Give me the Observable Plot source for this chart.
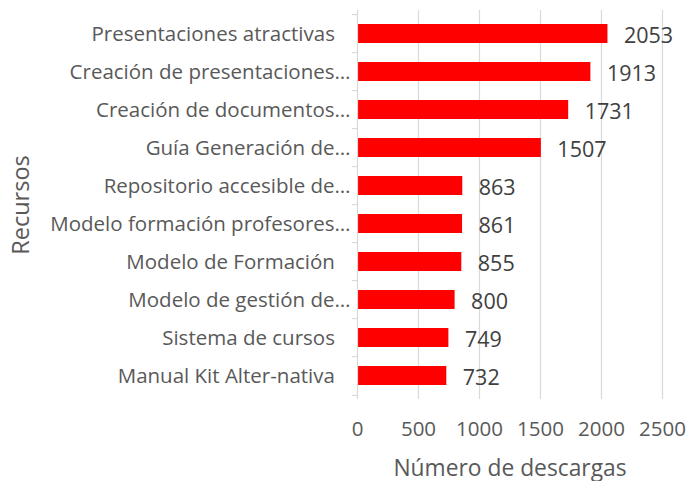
<!DOCTYPE html>
<html>
<head>
<meta charset="utf-8">
<script src="https://cdn.jsdelivr.net/npm/d3@7"></script>
<script src="https://cdn.jsdelivr.net/npm/@observablehq/plot@0.6"></script>
<style>
  html, body { margin: 0; padding: 0; background: #fff; }
  svg { display: block; }
</style>
</head>
<body>
<div id="chart"></div>
<script>
const categories = [
  "Presentaciones atractivas\u2002\u00a0",
  "Creación de presentaciones…",
  "Creación de documentos…",
  "Guía Generación de…",
  "Repositorio accesible de…",
  "Modelo formación profesores…",
  "Modelo de Formación\u2002\u00a0",
  "Modelo de gestión de…",
  "Sistema de cursos\u2002\u00a0",
  "Manual Kit Alter-nativa\u2002\u00a0"
];
const values = [2053, 1913, 1731, 1507, 863, 861, 855, 800, 749, 732];
const xTicks = [0, 500, 1000, 1500, 2000, 2500];

const data = categories.map((c, i) => ({ cat: c, value: values[i] }));

const W = 688, H = 481;
const mTop = 10, mBottom = 82, mLeft = 357, mRight = 26;
const step = (H - mTop - mBottom) / categories.length;

const chart = Plot.plot({
  width: W,
  height: H,
  marginTop: mTop,
  marginBottom: mBottom,
  marginLeft: mLeft,
  marginRight: mRight,
  style: { fontFamily: "'Open Sans', sans-serif", background: "#fff", color: "#595959" },
  x: { domain: [0, 2500], ticks: xTicks, tickFormat: d => String(d) },
  y: { domain: categories, paddingInner: 0.5, paddingOuter: 0.25 },
  marks: [
    Plot.gridX(xTicks.filter(d => d > 0), { stroke: "#d9d9d9", strokeOpacity: 1, strokeWidth: 1.2 }),
    Plot.barX(data, { x: "value", y: "cat", fill: "#ff0000" }),
    Plot.ruleX([0], { stroke: "#d9d9d9", strokeWidth: 1.2 }),
    Plot.ruleY(categories, { y: d => d, x1: -41, x2: 0, dy: -step / 2, stroke: "#d9d9d9", strokeWidth: 1.2 }),
    Plot.ruleY([categories[categories.length - 1]], { y: d => d, x1: -41, x2: 0, dy: step / 2, stroke: "#d9d9d9", strokeWidth: 1.2 }),
    Plot.text(data, { x: "value", y: "cat", text: d => String(d.value), textAnchor: "start", dx: 16, dy: 2, fontSize: 21.5, fill: "#404040" }),
    Plot.axisX(xTicks, { tickSize: 0, tickPadding: 22, fontSize: 20.5, tickFormat: d => String(d), label: "Número de descargas", labelArrow: "none", labelAnchor: "center", labelOffset: 76, color: "#595959" }),
    Plot.axisY({ tickSize: 0, tickPadding: 7, fontSize: 20.5, label: "Recursos", labelArrow: "none", labelAnchor: "center", labelOffset: 345, color: "#595959" })
  ]
});

chart.querySelectorAll("[aria-label='x-axis label'] text").forEach(t => {
  t.textContent = t.textContent.replace(/\s*[→←↑↓]\s*/g, "").trim();
  t.setAttribute("font-size", "22.8");
  t.style.fontSize = "22.8px";
});
chart.querySelectorAll("[aria-label='y-axis label'] text").forEach(t => {
  t.textContent = t.textContent.replace(/\s*[→←↑↓]\s*/g, "").trim();
  t.setAttribute("font-size", "23.5");
  t.style.fontSize = "23.5px";
});
chart.querySelectorAll("[aria-label='y-axis tick label'] text").forEach(t => {
  t.setAttribute("xml:space", "preserve");
  t.style.whiteSpace = "pre";
});
document.getElementById("chart").appendChild(chart);
</script>
</body>
</html>
